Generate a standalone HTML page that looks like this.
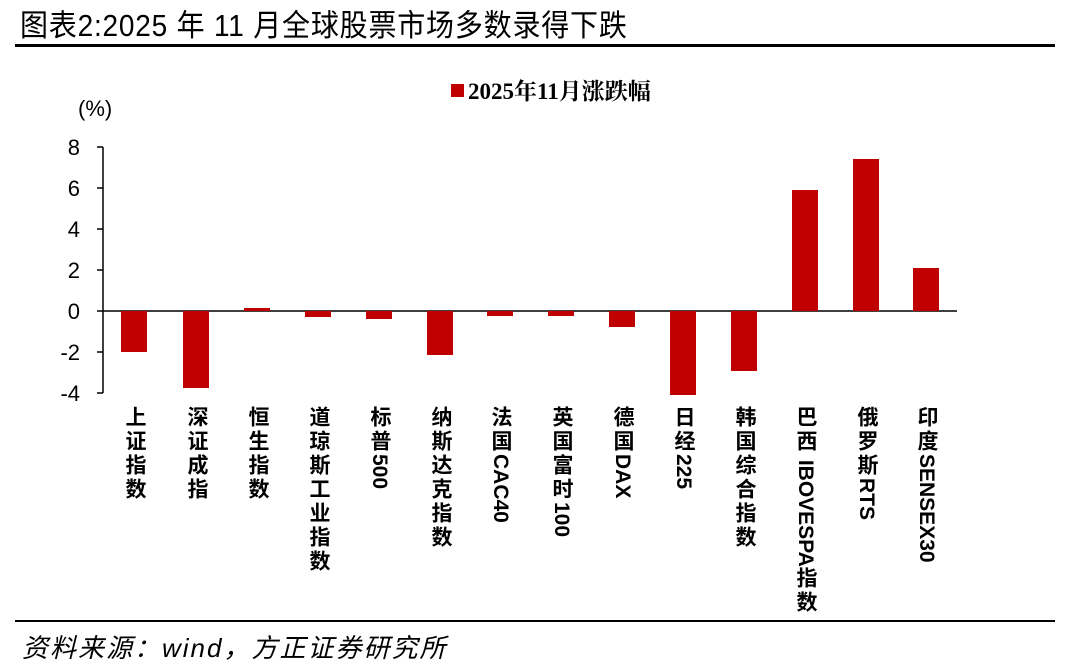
<!DOCTYPE html>
<html><head><meta charset="utf-8"><style>
body{margin:0;background:#fff;width:1080px;height:659px;overflow:hidden;position:relative;font-family:"Liberation Sans","Noto Sans CJK SC",sans-serif}
.lab{position:absolute;top:406px;writing-mode:vertical-rl;text-orientation:mixed;font-size:21px;font-weight:bold;line-height:22px;color:#000;letter-spacing:3px}
.lab span{letter-spacing:0}
</style></head><body>
<div style="position:absolute;left:20px;top:2px;font-size:28px;color:#000;font-family:'Liberation Sans','WenQuanYi Zen Hei',sans-serif;letter-spacing:0.8px;transform:scaleY(1.1);transform-origin:top left">图表2:2025 年 11 月全球股票市场多数录得下跌</div>
<div style="position:absolute;left:15px;top:44px;width:1040px;height:3px;background:#000"></div>
<svg width="1080" height="659" style="position:absolute;left:0;top:0">
<rect x="451" y="84" width="13" height="13" fill="#c00000"/>
<text x="468" y="99" font-family="Liberation Serif,Noto Serif CJK SC,serif" font-weight="bold" font-size="23">2025年11月涨跌幅</text>
<text x="78" y="116" font-size="22" font-family="Liberation Sans,sans-serif">(%)</text>
<g font-size="22" font-family="Liberation Sans,sans-serif" text-anchor="end">
<text x="80" y="155">8</text><text x="80" y="196">6</text><text x="80" y="237">4</text><text x="80" y="278">2</text><text x="80" y="319">0</text><text x="80" y="360">-2</text><text x="80" y="401">-4</text>
</g>
<g stroke="#000" stroke-width="1.5">
<line x1="103" y1="147" x2="103" y2="393"/>
<line x1="97" y1="147" x2="103" y2="147"/><line x1="97" y1="188" x2="103" y2="188"/><line x1="97" y1="229" x2="103" y2="229"/><line x1="97" y1="270" x2="103" y2="270"/><line x1="97" y1="311" x2="103" y2="311"/><line x1="97" y1="352" x2="103" y2="352"/><line x1="97" y1="393" x2="103" y2="393"/>
<line x1="103" y1="311" x2="957" y2="311"/>
</g>
<g fill="#c00000">
<rect x="121" y="311" width="26" height="41"/>
<rect x="183" y="311" width="26" height="77"/>
<rect x="244" y="308" width="26" height="3"/>
<rect x="305" y="311" width="26" height="6"/>
<rect x="366" y="311" width="26" height="8"/>
<rect x="427" y="311" width="26" height="44"/>
<rect x="487" y="311" width="26" height="5"/>
<rect x="548" y="311" width="26" height="5"/>
<rect x="609" y="311" width="26" height="16"/>
<rect x="670" y="311" width="26" height="84"/>
<rect x="731" y="311" width="26" height="60"/>
<rect x="792" y="190" width="26" height="121"/>
<rect x="853" y="159" width="26" height="152"/>
<rect x="913" y="268" width="26" height="43"/>
</g>
</svg>
<div class="lab" style="left:123px">上证指数</div>
<div class="lab" style="left:185px">深证成指</div>
<div class="lab" style="left:246px">恒生指数</div>
<div class="lab" style="left:307px">道琼斯工业指数</div>
<div class="lab" style="left:368px">标普<span>500</span></div>
<div class="lab" style="left:429px">纳斯达克指数</div>
<div class="lab" style="left:489px">法国<span>CAC40</span></div>
<div class="lab" style="left:550px">英国富时<span>100</span></div>
<div class="lab" style="left:611px">德国<span>DAX</span></div>
<div class="lab" style="left:672px">日经<span>225</span></div>
<div class="lab" style="left:733px">韩国综合指数</div>
<div class="lab" style="left:794px">巴西<span> IBOVESPA</span>指数</div>
<div class="lab" style="left:855px">俄罗斯<span>RTS</span></div>
<div class="lab" style="left:915px">印度<span>SENSEX30</span></div>
<div style="position:absolute;left:15px;top:620px;width:1040px;height:2px;background:#000"></div>
<div style="position:absolute;left:22px;top:628px;font-size:26px;font-style:italic;color:#000;letter-spacing:2px">资料来源：wind，方正证券研究所</div>
</body></html>
